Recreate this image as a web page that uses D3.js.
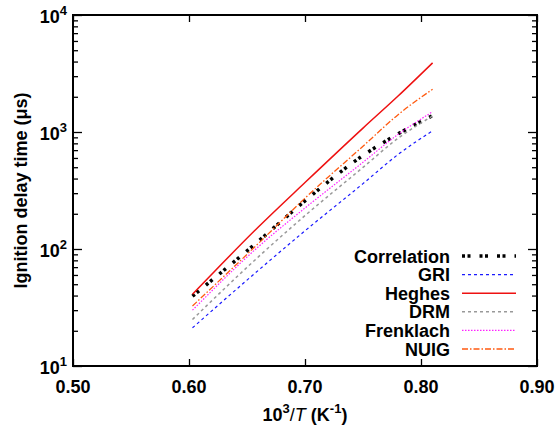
<!DOCTYPE html>
<html>
<head>
<meta charset="utf-8">
<script src="https://cdn.jsdelivr.net/npm/d3@7"></script>
<style>
  body { margin: 0; background: #fff; }
  text { font-family: "Liberation Sans", Arial, sans-serif; font-weight: bold; }
</style>
</head>
<body>
<div id="chart"></div>
<script>
// inverse temperature, 10^3/T (1/K)
const invT = [0.603, 0.66, 0.70, 0.75, 0.78, 0.81];

// ignition delay times (us)
const correlation = [39.5, 117, 258, 630, 960, 1380];
const gri = [21.2, 66, 143, 362, 640, 1025];
const heghes = [41, 155, 370, 1080, 2020, 3900];
const drm = [25, 86, 193, 498, 880, 1370];
const frenklach = [30, 105, 224, 551, 950, 1490];
const nuig = [32.6, 112, 272, 756, 1400, 2320];

const seriesNames = ["Correlation", "GRI", "Heghes", "DRM", "Frenklach", "NUIG"];
const seriesValues = [correlation, gri, heghes, drm, frenklach, nuig];

const xTicks = [0.5, 0.6, 0.7, 0.8, 0.9];
const yTicks = [10, 100, 1000, 10000];

// line styles per series
const styles = [
  { color: "#000000", width: 3.5, dash: "3,2.5,3,9" },
  { color: "#1a1aff", width: 1.2, dash: "3,3" },
  { color: "#ee1111", width: 1.5, dash: null },
  { color: "#999999", width: 1.5, dash: "3,3" },
  { color: "#ff22ff", width: 1.2, dash: "1.5,1.5" },
  { color: "#ff5a10", width: 1.3, dash: "6,2,1.5,2" }
];

const width = 557, height = 433;
const pLeft = 73, pRight = 537, pTop = 15, pBottom = 366;

const svg = d3.select("#chart").append("svg")
  .attr("width", width)
  .attr("height", height);

const x = d3.scaleLinear().domain([0.5, 0.9]).range([pLeft, pRight]);
const y = d3.scaleLog().domain([10, 10000]).range([pBottom, pTop]);

// minor ticks for log axis
const minor = [];
for (let dec = 10; dec < 10000; dec *= 10) {
  for (let k = 2; k <= 9; k++) minor.push(dec * k);
}

// left axis: ticks drawn inward
svg.append("g")
  .attr("transform", `translate(${pLeft},0)`)
  .call(d3.axisRight(y).tickValues(yTicks).tickSize(9).tickFormat(""))
  .call(g => g.select(".domain").remove());
svg.append("g")
  .attr("transform", `translate(${pLeft},0)`)
  .call(d3.axisRight(y).tickValues(minor).tickSize(5).tickFormat(""))
  .call(g => g.select(".domain").remove());
// right axis
svg.append("g")
  .attr("transform", `translate(${pRight},0)`)
  .call(d3.axisLeft(y).tickValues(yTicks).tickSize(9).tickFormat(""))
  .call(g => g.select(".domain").remove());
svg.append("g")
  .attr("transform", `translate(${pRight},0)`)
  .call(d3.axisLeft(y).tickValues(minor).tickSize(5).tickFormat(""))
  .call(g => g.select(".domain").remove());
// bottom and top axes
svg.append("g")
  .attr("transform", `translate(0,${pBottom})`)
  .call(d3.axisTop(x).tickValues(xTicks).tickSize(7).tickFormat(""))
  .call(g => g.select(".domain").remove());
svg.append("g")
  .attr("transform", `translate(0,${pTop})`)
  .call(d3.axisBottom(x).tickValues(xTicks).tickSize(7).tickFormat(""))
  .call(g => g.select(".domain").remove());

svg.selectAll(".tick line").attr("stroke", "#000").attr("stroke-width", 1.3);

// frame
svg.append("rect")
  .attr("x", pLeft).attr("y", pTop)
  .attr("width", pRight - pLeft).attr("height", pBottom - pTop)
  .attr("fill", "none").attr("stroke", "#000").attr("stroke-width", 2);

// x tick labels
svg.selectAll("text.xlab")
  .data(xTicks)
  .enter().append("text")
  .attr("class", "xlab")
  .attr("x", d => x(d))
  .attr("y", pBottom + 27)
  .attr("text-anchor", "middle")
  .attr("font-size", 18)
  .text(d => d.toFixed(2));

// y tick labels 10^n
const ylab = svg.selectAll("text.ylab")
  .data(yTicks)
  .enter().append("text")
  .attr("class", "ylab")
  .attr("x", pLeft - 6)
  .attr("y", d => y(d) + 8)
  .attr("text-anchor", "end")
  .attr("font-size", 18);
ylab.append("tspan").text("10");
ylab.append("tspan").attr("dy", -8).attr("font-size", 13).text(d => Math.round(Math.log10(d)));

// axis titles
const xt = svg.append("text")
  .attr("x", (pLeft + pRight) / 2)
  .attr("y", pBottom + 55)
  .attr("text-anchor", "middle")
  .attr("font-size", 18);
xt.append("tspan").text("10");
xt.append("tspan").attr("dy", -8).attr("font-size", 13).text("3");
xt.append("tspan").attr("dy", 8).attr("font-weight", "normal").text("/");
xt.append("tspan").attr("font-style", "italic").attr("font-weight", "normal").text("T");
xt.append("tspan").text(" (K");
xt.append("tspan").attr("dy", -8).attr("font-size", 13).text("-1");
xt.append("tspan").attr("dy", 8).text(")");

svg.append("text")
  .attr("transform", `translate(27,${(pTop + pBottom) / 2}) rotate(-90)`)
  .attr("text-anchor", "middle")
  .attr("font-size", 18)
  .text("Ignition delay time (μs)");

// series lines
const line = d3.line()
  .curve(d3.curveMonotoneX)
  .x(d => x(d[0]))
  .y(d => y(d[1]));

seriesValues.forEach((vals, i) => {
  const pts = invT.map((t, j) => [t, vals[j]]);
  svg.append("path")
    .datum(pts)
    .attr("fill", "none")
    .attr("stroke", styles[i].color)
    .attr("stroke-width", styles[i].width)
    .attr("stroke-dasharray", styles[i].dash)
    .attr("d", line);
});

// legend
const legY0 = 256, legStep = 18.6;
const leg = svg.selectAll("g.leg")
  .data(seriesNames)
  .enter().append("g")
  .attr("class", "leg")
  .attr("transform", (d, i) => `translate(0,${legY0 + i * legStep})`);
leg.append("text")
  .attr("x", 450)
  .attr("y", 6.5)
  .attr("text-anchor", "end")
  .attr("font-size", 18)
  .text(d => d);
leg.append("line")
  .attr("x1", 462).attr("x2", 516)
  .attr("y1", 0).attr("y2", 0)
  .attr("stroke", (d, i) => styles[i].color)
  .attr("stroke-width", (d, i) => styles[i].width)
  .attr("stroke-dasharray", (d, i) => styles[i].dash);
</script>
</body>
</html>
